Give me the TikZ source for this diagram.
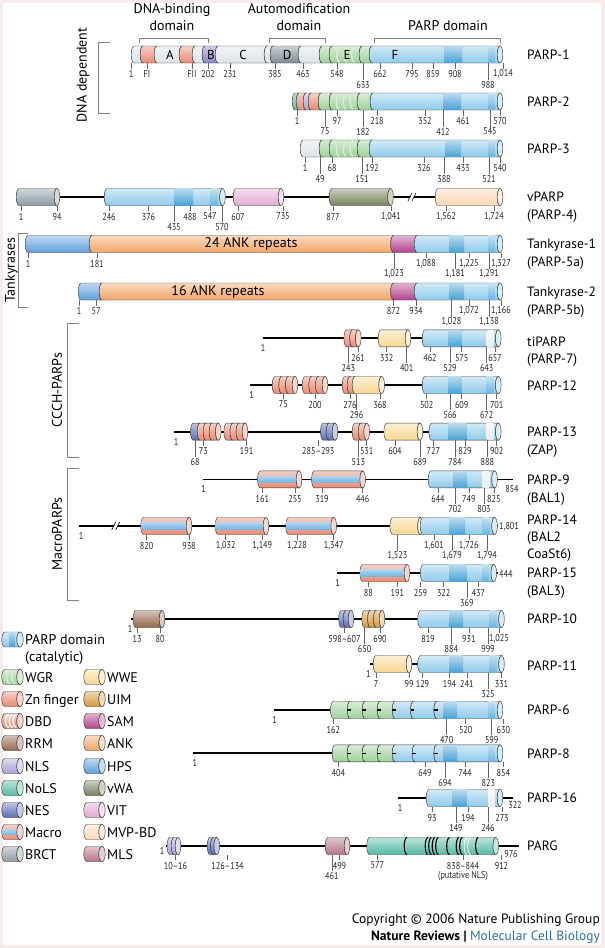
\documentclass[tikz,border=0pt]{standalone}
\usepackage{fontspec}
\setmainfont{PT Sans}
\newfontfamily\numf[FakeStretch=0.82]{PT Sans}

\definecolor{bgpink}{HTML}{F8EBEB}
\definecolor{line}{HTML}{3A3A3A}
\definecolor{pale}{HTML}{DCE3E8}
\definecolor{dgray}{HTML}{7C8B96}
\definecolor{bpur}{HTML}{8C82C6}
\definecolor{znf}{HTML}{E98A72}
\definecolor{wgr}{HTML}{9FD09A}
\definecolor{parp}{HTML}{8FCBEB}
\definecolor{parpd}{HTML}{4AA3D6}
\colorlet{parpm}{parpd!55!parp}
\colorlet{parpg}{black!7}
\definecolor{brct}{HTML}{8D9BA5}
\definecolor{vit}{HTML}{E3A9D2}
\definecolor{vwa}{HTML}{75855E}
\definecolor{mvp}{HTML}{FCD8B8}
\definecolor{hps}{HTML}{5E9FDC}
\definecolor{ank}{HTML}{F2A466}
\definecolor{sam}{HTML}{B0428E}
\definecolor{wwe}{HTML}{F7D792}
\definecolor{uim}{HTML}{D39A3E}
\definecolor{rrm}{HTML}{95664A}
\definecolor{nls}{HTML}{A9A2D8}
\definecolor{nols}{HTML}{55BBA5}
\definecolor{nes}{HTML}{5A6FB5}
\definecolor{mls}{HTML}{B47585}
\definecolor{macb}{HTML}{74B6E2}
\definecolor{nrblue}{HTML}{2F6EA8}

\tikzset{
  bb/.style={line width=1.8pt},
  tk/.style={draw=black!60, line width=0.5pt},
  brk/.style={draw=black!50, line width=0.6pt},
  num/.style={font=\numf\fontsize{10}{10}\selectfont, inner sep=0pt, text=black!85},
  pname/.style={font=\fontsize{13.5}{14}\selectfont, anchor=base west, inner sep=0pt},
  hdr/.style={font=\fontsize{14}{15}\selectfont, inner sep=0pt},
  lett/.style={font=\fontsize{13}{13}\selectfont, inner sep=0pt},
  leg/.style={font=\fontsize{14}{15}\selectfont, anchor=base west, inner sep=0pt}
}

% half height and cap radius of a domain cylinder
\newcommand{\cylh}{8.5}
\newcommand{\cylr}{2.8}
% x1, x2, y, colour
\newcommand{\cyl}[4]{\path[top color=#4!40!white, bottom color=#4, draw=line, line width=0.45pt]
  (#1,#3-\cylh) -- (#2,#3-\cylh) arc[start angle=-90,end angle=-270,x radius=\cylr,y radius=\cylh]
  -- (#1,#3+\cylh) arc[start angle=90,end angle=270,x radius=\cylr,y radius=\cylh] -- cycle;}
\newcommand{\ecap}[3]{\draw[fill=#3!35!white, draw=line, line width=0.45pt] (#1,#2) ellipse[x radius=\cylr, y radius=\cylh];}
\newcommand{\band}[4]{\fill[top color=#4!40!white, bottom color=#4] (#1,#3-\cylh+0.3) rectangle (#2,#3+\cylh-0.3);}
\newcommand{\dom}[4]{\cyl{#1}{#2}{#3}{#4}\ecap{#2}{#3}{#4}}
% PARP domain: x1, x2, y, dark band from, to, colour near the end
\newcommand{\pdom}[6]{\cyl{#1}{#2}{#3}{parp}\band{#4}{#5}{#3}{parpd}\band{#2-12}{#2-5}{#3}{#6}\ecap{#2}{#3}{parp}}
\newcommand{\strp}[5]{\foreach \k in {1,...,#4} {\draw[#5!40!white, line width=1.4pt]
  ({#1+\k*(#2-#1)/(#4+1)},#3-\cylh+1) arc[start angle=-90,end angle=-270,x radius=\cylr,y radius=\cylh-1];}}
\newcommand{\mcr}[3]{\cyl{#1}{#2}{#3}{znf}\fill[top color=macb!60!white, bottom color=macb] (#1-2.4,#3-0.36*\cylh) rectangle (#2,#3+0.36*\cylh);\ecap{#2}{#3}{znf}}
\newcommand{\mk}[2]{\draw[line width=1.5pt] (#1-\cylr,#2) -- (#1+0.8,#2);}
\newcommand{\brkk}[2]{\draw[white, line width=3pt] (#1-2,#2+4) -- (#1+2,#2-4);
  \draw[line width=0.6pt] (#1-4,#2+4) -- (#1,#2-4) (#1,#2+4) -- (#1+4,#2-4);}
% labels: prefix, y of bar, first row, second row
\newcommand{\labs}[4]{%
  \foreach \x/\t [count=\i] in {#3} {\draw[tk] (\x,#2+8.5) -- (\x,#2+14); \node[num] (#1a\i) at (\x,#2+19.5) {\t};}
  \foreach \x/\t [count=\i] in {#4} {\draw[tk] (\x,#2+8.5) -- (\x,#2+25); \node[num] (#1b\i) at (\x,#2+30) {\t};}}

\begin{document}
\begin{tikzpicture}[x=1pt,y=-1pt]
\useasboundingbox (0,0) rectangle (605,948);
\fill[bgpink] (0,0) rectangle (605,948);
\fill[white] (3,3) rectangle (601,945);

% headers and groups
\node[hdr, anchor=base] (hdna1) at (172,13.3) {DNA-binding};
\node[hdr, anchor=base] (hdna2) at (172,30) {domain};
\node[hdr, anchor=base] (hauto1) at (299,13.3) {Automodification};
\node[hdr, anchor=base] (hauto2) at (299,30) {domain};
\node[hdr, anchor=base] (hparp) at (448,30) {PARP domain};
\draw[brk] (139,43) -- (139,38) -- (208,38) -- (208,43);
\draw[brk] (269,43) -- (269,38) -- (325,38) -- (325,43);
\draw[brk] (374,43) -- (374,38) -- (500,38) -- (500,43);
\node[hdr, rotate=90] (gdna) at (83,75) {DNA dependent};
\draw[brk] (110,42) -- (98,42) -- (98,113) -- (110,113);
\node[hdr, rotate=90] (gtank) at (11.5,270) {Tankyrases};
\draw[brk] (28,233) -- (18.5,233) -- (18.5,307) -- (28,307);
\node[hdr, rotate=90] (gccch) at (57,390) {CCCH-PARPs};
\draw[brk] (79,323) -- (67.5,323) -- (67.5,457) -- (79,457);
\node[hdr, rotate=90] (gmacro) at (57,534) {MacroPARPs};
\draw[brk] (79,468) -- (67.5,468) -- (67.5,600) -- (79,600);

% PARP-1
\foreach \a/\b/\c in {134/143/pale,143/157/znf,157/182/pale,182/195/znf,195/205/pale,205/218/bpur,218/267/pale,267/273/pale,273/301/dgray,301/322/pale,322/332/wgr,332/362/wgr,362/372/wgr} {\cyl{\a}{\b}{54.5}{\c}}
\strp{332}{362}{54.5}{3}{wgr}
\pdom{372}{500}{54.5}{444}{462}{parpm}
\foreach \x/\t in {170/A,211/B,243/C,287/D,347/E,395/F} {\node[lett] (let\t) at (\x,54.5) {\t};}
\labs{pa}{54.5}{131/1,147/FI,192/FII,208/202,230/231,275/385,303/463,337/548,380/662,412/795,433/859,455/908,503/{1,014}}{363/633,488/988}

% PARP-2
\foreach \a/\b/\c in {295/299/nols,299/306/znf,306/311/nls,311/321/znf,321/332/wgr,332/360/wgr,360/373/wgr} {\cyl{\a}{\b}{101.5}{\c}}
\strp{332}{360}{101.5}{3}{wgr}
\pdom{373}{500}{101.5}{443}{461}{parpm}
\labs{pb}{101.5}{297/1,337/97,377/218,425/352,463/461,500/570}{325/75,363/182,443/412,490/545}

% PARP-3
\foreach \a/\b/\c in {303/322/pale,322/332/wgr,332/360/wgr,360/372/wgr} {\cyl{\a}{\b}{148.5}{\c}}
\strp{332}{360}{148.5}{3}{wgr}
\pdom{372}{500}{148.5}{445}{461}{parpm}
\labs{pc}{148.5}{305/1,332/68,372/192,424/326,463/433,500/540}{320/49,362/151,444/388,489/521}

% vPARP
\draw[bb] (19,197) -- (438,197);
\dom{19}{57}{197}{brct}
\pdom{107}{222.5}{197}{174}{193}{parpm}
\dom{236}{281}{197}{vit}
\dom{332}{390.5}{197}{vwa}
\brkk{412}{197}
\dom{438}{500}{197}{mvp}
\labs{pd}{197}{21/1,57/94,109/246,148.5/376,190/488,210/547,238/607,283/735,333/877,391/{1,041},446/{1,562},494/{1,724}}{174/435,222/570}

% Tankyrase-1
\cyl{28}{92}{244}{hps}\cyl{92}{393.5}{244}{ank}\cyl{393.5}{417}{244}{sam}
\pdom{417}{500}{244}{449.5}{464}{parpm}
\node[hdr] (ank1) at (251,244) {24 ANK repeats};
\labs{ta}{244}{28/1,97/181,426/{1,088},469/{1,225},501/{1,327}}{394/{1,023},455/{1,181},489/{1,291}}

% Tankyrase-2
\cyl{81}{102}{291.5}{hps}\cyl{102}{393.5}{291.5}{ank}\cyl{393.5}{417}{291.5}{sam}
\pdom{417}{500}{291.5}{449.5}{464}{parpm}
\node[hdr] (ank2) at (218,291.5) {16 ANK repeats};
\labs{tb}{291.5}{79/1,96/57,393.5/872,416/934,469/{1,072},501/{1,166}}{451.5/{1,028},489/{1,138}}

% tiPARP
\draw[bb] (263,338.3) -- (425,338.3);
\cyl{346.7}{352.5}{338.3}{znf}\dom{352.5}{358.3}{338.3}{znf}
\dom{381}{408}{338.3}{wwe}
\pdom{425}{498.3}{338.3}{448}{461.7}{parpg}
\node[num] (pe0) at (263,348.3) {1};
\labs{pe}{338.3}{358/261,386.7/332,430/462,461.7/575,495/657}{348.3/243,406.7/401,450/529,486.7/643}

% PARP-12
\draw[bb] (250,385) -- (425,385);
\cyl{275}{281.7}{385}{znf}\cyl{281.7}{288.3}{385}{znf}\dom{288.3}{295}{385}{znf}
\cyl{305}{311.7}{385}{znf}\cyl{311.7}{318.3}{385}{znf}\dom{318.3}{325}{385}{znf}
\cyl{345}{350}{385}{znf}\cyl{350}{355}{385}{znf}\dom{355}{381.7}{385}{wwe}
\pdom{425}{498.3}{385}{448}{461.7}{parpm}
\node[num] (pf0) at (251.7,395) {1};
\labs{pf}{385}{283.3/75,315/200,350/276,380/368,426.7/502,461.7/609,496.7/701}{356.7/296,450/566,486.7/672}

% PARP-13
\draw[bb] (174,431.7) -- (431.7,431.7);
\cyl{193.3}{200}{431.7}{nes}
\cyl{200}{206}{431.7}{znf}\cyl{206}{212}{431.7}{znf}\dom{212}{218.3}{431.7}{znf}
\cyl{226.7}{232.8}{431.7}{znf}\cyl{232.8}{238.9}{431.7}{znf}\dom{238.9}{245}{431.7}{znf}
\cyl{323.3}{329}{431.7}{nes}\dom{329}{335}{431.7}{nes}
\cyl{355}{361}{431.7}{znf}\dom{361}{366.7}{431.7}{znf}
\dom{386.7}{420}{431.7}{wwe}
\pdom{431.7}{498.3}{431.7}{448}{466.7}{parpg}
\node[num] (pg0) at (176,441.7) {1};
\labs{pg}{431.7}{203.3/73,246.7/191,318.3/{285–293},366.7/531,395/604,433.3/727,465/829,496.7/902}{195/68,358.3/513,420/689,455/784,487.3/888}

% PARP-9
\draw[bb] (202.5,479.4) -- (513,479.4);
\mcr{260.4}{299}{479.4}
\mcr{314.4}{362.7}{479.4}
\pdom{431}{494.6}{479.4}{453}{467}{parpg}
\node[num] (ph0) at (203.7,489.4) {1};
\node[num] (phe) at (512,488.5) {854};
\labs{ph}{479.4}{262.3/161,295/255,322/319,362.7/446,438/644,468.8/749,493.8/825}{455/702,484/803}

% PARP-14
\draw[bb] (79,526) -- (498,526);
\brkk{115.7}{526}
\mcr{143.5}{189}{526}
\mcr{218}{266}{526}
\mcr{288.6}{333.7}{526}
\dom{392.7}{420.5}{526}{wwe}
\pdom{423}{494.6}{526}{449.5}{465}{parpm}
\node[num] (pi0) at (81,536) {1};
\node[num, anchor=west] (pie) at (499,526.5) {1,801};
\labs{pi}{526}{146.6/820,189/938,225.7/{1,032},262.3/{1,149},297/{1,228},333.7/{1,347},434/{1,601},468.8/{1,726}}{397.4/{1,523},452/{1,679},487/{1,794}}

% PARP-15
\draw[bb] (336.8,573) -- (498,573);
\mcr{362.7}{407}{573}
\pdom{423.2}{493.8}{573}{449.5}{466.8}{parpm}
\node[num] (pj0) at (337.6,583) {1};
\node[num, anchor=west] (pje) at (499,573.5) {444};
\labs{pj}{573}{368.4/88,397.4/191,420.5/259,443.7/322,478.4/437}{466.8/369}

% PARP-10
\draw[bb] (131,619) -- (420.5,619);
\dom{135.8}{162}{619}{rrm}
\cyl{341.4}{346}{619}{nes}\dom{346}{351}{619}{nes}
\cyl{364.6}{370.4}{619}{uim}\cyl{370.4}{376.2}{619}{uim}\dom{376.2}{382}{619}{uim}
\pdom{420.5}{501.5}{619}{449.5}{463}{parpm}
\node[num] (pk0) at (130,629) {1};
\labs{pk}{619}{137/13,160/80,344.5/{598–607},380/690,428/819,468.8/931,499/{1,025}}{364.6/650,451.4/884,488/999}

% PARP-11
\draw[bb] (370.4,664) -- (420.5,664);
\dom{376}{409}{664}{wwe}
\pdom{420.5}{501.5}{664}{449.5}{463}{parpm}
\node[num] (pl0) at (368.4,674) {1};
\labs{pl}{664}{376/7,409/99,422.5/129,449.5/194,466.8/241,501.5/331}{488/325}

% PARP-6
\draw[bb] (274,710) -- (334,710);
\foreach \a/\b/\c in {333.3/350/wgr,350/365/wgr,365/380/wgr,380/395/wgr,395/413.3/parp,413.3/436.7/parp} {\cyl{\a}{\b}{710}{\c}}
\pdom{436.7}{500}{710}{443.3}{456.7}{parpm}
\foreach \x in {350,365,380,395,413.3,436.7} {\mk{\x}{710}}
\node[num] (pm0) at (274.7,720) {1};
\labs{pm}{710}{333.3/162,465.7/520,503.3/630}{446.7/470,491.7/599}

% PARP-8
\draw[bb] (193,753.3) -- (336,753.3);
\foreach \a/\b/\c in {335/350/wgr,350/365/wgr,365/380/wgr,380/395/wgr,395/415/parp,415/436.7/parp} {\cyl{\a}{\b}{753.3}{\c}}
\pdom{436.7}{500}{753.3}{443}{457}{parpm}
\foreach \x in {350,365,380,395,415,436.7} {\mk{\x}{753.3}}
\node[num] (pn0) at (194.8,763.3) {1};
\labs{pn}{753.3}{338.3/404,425/649,465/744,503.3/854}{445/694,488.3/823}

% PARP-16
\draw[bb] (398,798) -- (513,798);
\pdom{429}{500}{798}{452}{466.7}{parpg}
\node[num] (po0) at (400,808) {1};
\node[num] (poe) at (515,805) {322};
\labs{po}{798}{432/93,468/194,502/273}{456/149,488/246}

% PARG
\draw[bb] (166,846) -- (519,846);
\cyl{169.8}{174}{846}{nls}\dom{174}{178}{846}{nls}
\cyl{210}{213.4}{846}{nes}\dom{213.4}{216.8}{846}{nes}
\dom{328}{347}{846}{mls}
\cyl{369.6}{495.8}{846}{nols}
\foreach \x in {407,428,431.5,435,438.5,449.5,459,462.5,478.4} {\draw[line width=1.1pt] (\x,846-\cylh) arc[start angle=-90,end angle=-270,x radius=\cylr,y radius=\cylh];}
\foreach \x in {467,470.5} {\draw[white, line width=0.8pt] (\x,846-\cylh) arc[start angle=-90,end angle=-270,x radius=\cylr,y radius=\cylh];}
\ecap{495.8}{846}{nols}
\node[num] (pq0) at (162,851) {1};
\node[num] (pqe) at (511,854) {976};
\labs{pq}{846}{175.5/{10–16},227.6/{126–134},339.5/499,377.3/577,463/{838–844},501.5/912}{331.8/461}
\node[num] (pqn) at (463,876) {(putative NLS)};

% protein names
\foreach \y/\t [count=\i] in {59.3/PARP-1,106.3/PARP-2,153.3/PARP-3,201.8/vPARP,219.8/(PARP-4),248.8/Tankyrase-1,266.8/(PARP-5a),296.3/Tankyrase-2,314.3/(PARP-5b),346.5/tiPARP,363.1/(PARP-7),390.8/PARP-12,436.5/PARP-13,454.8/(ZAP),484.2/PARP-9,502.5/(BAL1),524.2/PARP-14,541.2/(BAL2/,558.1/CoaSt6),577.8/PARP-15,595.8/(BAL3),623.8/PARP-10,670/PARP-11,714.8/PARP-6,758.1/PARP-8,802.8/PARP-16,850.8/PARG} {\node[pname] (nm\i) at (527,\y) {\t};}

% legend
\begin{scope}
\renewcommand{\cylh}{7.5}\renewcommand{\cylr}{3.2}
\cyl{5}{20}{639.5}{parp}\band{9}{15}{639.5}{parpd}\ecap{20}{639.5}{parp}
\cyl{5}{20}{677}{wgr}\strp{5}{20}{677}{2}{wgr}\ecap{20}{677}{wgr}
\dom{5}{20}{699}{znf}
\cyl{5}{20}{721}{znf}\strp{5}{20}{721}{3}{white}\ecap{20}{721}{znf}
\dom{5}{20}{743}{rrm}
\dom{5}{20}{766}{nls}
\dom{5}{20}{788}{nols}
\dom{5}{20}{810}{nes}
\mcr{5}{20}{832}
\dom{5}{20}{854}{brct}
\foreach \y/\c in {677/wwe,699/uim,721/sam,743/ank,766/hps,788/vwa,810/vit,832/mvp,854/mls} {\dom{87}{102}{\y}{\c}}
\end{scope}
\node[leg] (lgp1) at (25,644.5) {PARP domain};
\node[leg] (lgp2) at (25,661) {(catalytic)};
\foreach \y/\t [count=\i] in {677/WGR,699/Zn finger,721/DBD,743/RRM,766/NLS,788/NoLS,810/NES,832/Macro,854/BRCT} {\node[leg] (lgl\i) at (25,\y+5) {\t};}
\foreach \y/\t [count=\i] in {677/WWE,699/UIM,721/SAM,743/ANK,766/HPS,788/vWA,810/VIT,832/MVP-BD,854/MLS} {\node[leg] (lgr\i) at (107,\y+5) {\t};}

% credit line
\node[anchor=base east, font=\fontsize{13.5}{14}\selectfont, inner sep=0pt] (copy) at (600,923) {Copyright © 2006 Nature Publishing Group};
\node[anchor=base east, font=\fontsize{13.5}{14}\selectfont, inner sep=0pt] (nrmcb) at (600,940) {\textbf{Nature Reviews | }\textcolor{nrblue}{Molecular Cell Biology}};
\end{tikzpicture}
\end{document}
